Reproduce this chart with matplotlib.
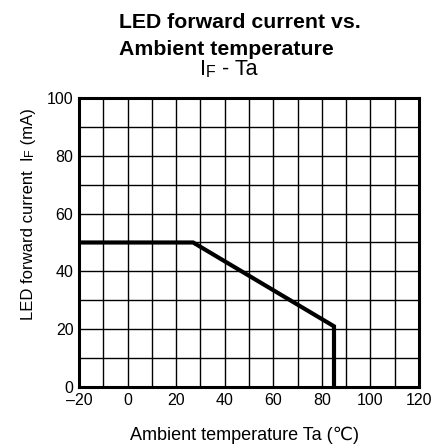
import matplotlib
matplotlib.use('Agg')
import matplotlib.pyplot as plt

plt.rcParams['font.family'] = ['Liberation Sans', 'DejaVu Sans']

# derating curve IF - Ta
ta = [-20, 27, 85, 85]
i_f = [50, 50, 21, 0]

x_ticks = [-20, 0, 20, 40, 60, 80, 100, 120]
x_labels = ['\u201320', '0', '20', '40', '60', '80', '100', '120']
y_ticks = [0, 20, 40, 60, 80, 100]
grid_x = list(range(-10, 120, 10))
grid_y = list(range(10, 100, 10))

fig = plt.figure(figsize=(4.35, 4.44), dpi=100)
ax = fig.add_axes([0.1816, 0.1284, 0.7816, 0.6509])

for gx in grid_x:
    ax.axvline(gx, color='black', lw=1.0, zorder=1)
for gy in grid_y:
    ax.axhline(gy, color='black', lw=1.0, zorder=1)

ax.plot(ta, i_f, color='black', lw=3, solid_joinstyle='miter', zorder=3)

ax.set_xlim(-20, 120)
ax.set_ylim(0, 100)
ax.set_xticks(x_ticks)
ax.set_xticklabels(x_labels)
ax.set_yticks(y_ticks)
ax.tick_params(length=0, labelsize=11.5, pad=4)
for s in ax.spines.values():
    s.set_linewidth(2.2)
    s.set_zorder(4)

# titles
fig.text(0.2736, 1 - 28 / 444, 'LED forward current vs.', fontsize=15.3,
         fontweight='bold', ha='left', va='baseline')
fig.text(0.2736, 1 - 55 / 444, 'Ambient temperature', fontsize=15.3,
         fontweight='bold', ha='left', va='baseline')

t1 = fig.text(200 / 435, 1 - 80 / 444, 'I', fontsize=15.5, ha='left', va='bottom')
t2 = ax.annotate('F', xy=(1, 0), xycoords=t1, fontsize=11.5, ha='left', va='bottom')
ax.annotate(' - Ta', xy=(1, 0), xycoords=t2, fontsize=15.5, ha='left', va='bottom')

# y label pieces
y1 = fig.text(36 / 435, 1 - 320 / 444, 'LED forward current  I', fontsize=12,
              rotation=90, rotation_mode='anchor', ha='left', va='bottom')
y2 = ax.annotate('F', xy=(1, 1), xycoords=y1, fontsize=9, rotation=90,
                 rotation_mode='anchor', ha='left', va='bottom')
ax.annotate(' (mA)', xy=(1, 1), xycoords=y2, fontsize=12, rotation=90,
            rotation_mode='anchor', ha='left', va='bottom')

fig.text(244 / 435, 1 - 435 / 444, 'Ambient temperature Ta (\u2103)', fontsize=13,
         ha='center', va='center')

plt.savefig('out.png', dpi=100)
